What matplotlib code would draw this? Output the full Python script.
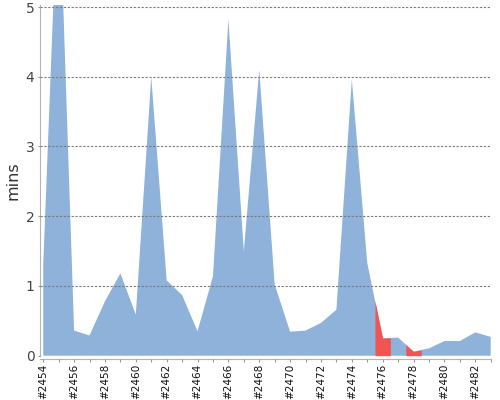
import matplotlib
matplotlib.use("Agg")
import matplotlib.pyplot as plt
import numpy as np

# build numbers and their durations (minutes)
builds = list(range(2454, 2484))
mins = [1.3, 7.0, 0.36, 0.29, 0.78, 1.18, 0.59, 4.0, 1.08, 0.87,
        0.35, 1.14, 4.82, 1.5, 4.1, 1.02, 0.345, 0.36, 0.47, 0.66,
        3.96, 1.33, 0.25, 0.26, 0.06, 0.105, 0.21, 0.21, 0.335, 0.27]
failed = [2476, 2478]
yticks = [0, 1, 2, 3, 4, 5]

blue = "#8eb2d9"
red = "#f25454"

plt.rcParams["font.family"] = ["DejaVu Sans"]

fig = plt.figure(figsize=(5, 4), dpi=100)
ax = fig.add_axes([0.08, 1 - 355.7 / 400, 0.902, (355.7 - 5) / 400])

x = np.array(builds, dtype=float)
y = np.array(mins)
ax.fill_between(x, 0, y, color=blue, lw=0, zorder=1)

# failed builds get a red band half a build wide on each side
for b in failed:
    i = builds.index(b)
    xs = [b - 0.5, b, b + 0.5]
    ys = [(y[i - 1] + y[i]) / 2, y[i], (y[i] + y[i + 1]) / 2]
    ax.fill_between(xs, 0, ys, color=red, lw=0, zorder=2)

ax.set_xlim(2453.79, 2483.02)
ax.set_ylim(0, 5.029)

ax.set_yticks(yticks)
ax.set_yticklabels([str(t) for t in yticks])
ax.set_xticks(builds)
ax.set_xticklabels(["#%d" % b if (b - builds[0]) % 2 == 0 else "" for b in builds])

ax.yaxis.grid(True, linestyle=(0, (2, 1.5)), color="#7a7a7a", lw=0.8, zorder=3)
ax.set_axisbelow(False)

for s in ["top", "right"]:
    ax.spines[s].set_visible(False)
ax.spines["left"].set_color("#b4b4b4")
ax.spines["bottom"].set_color("#b4b4b4")
ax.spines["bottom"].set_position(("outward", 2.7))

ax.tick_params(axis="y", length=1.5, color="#999999", labelsize=10,
               labelcolor="#444444", pad=2.5)
ax.tick_params(axis="x", length=2.2, color="#999999", pad=0.8,
               labelrotation=90, labelsize=7.6, labelcolor="#111111")

ax.set_ylabel("mins", fontsize=11.5, color="#333333", labelpad=4)

fig.savefig("out.png", dpi=100)
